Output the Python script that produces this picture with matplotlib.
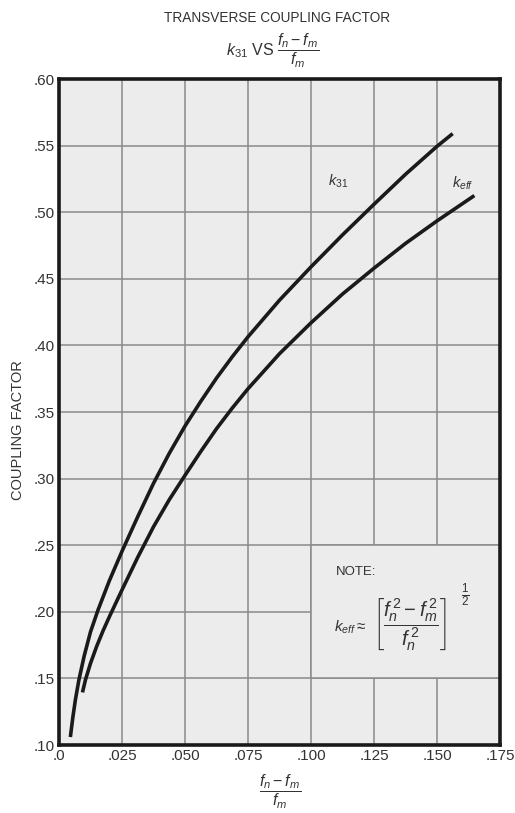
import numpy as np
import matplotlib
matplotlib.use('Agg')
import matplotlib.pyplot as plt
from matplotlib.patches import Rectangle

plt.rcParams['font.family'] = ['Liberation Sans', 'DejaVu Sans']
plt.rcParams['mathtext.fontset'] = 'custom'
plt.rcParams['mathtext.rm'] = 'Liberation Sans'
plt.rcParams['mathtext.it'] = 'Liberation Sans:italic'
plt.rcParams['mathtext.bf'] = 'Liberation Sans:bold'

# curves: (fn - fm)/fm  vs coupling factor
k31_x = [0.0045, 0.0055, 0.0065, 0.0079, 0.010, 0.0125, 0.0155, 0.020, 0.025,
         0.03125, 0.0375, 0.04375, 0.050, 0.05625, 0.0625, 0.06875, 0.075,
         0.0875, 0.100, 0.1125, 0.125, 0.1375, 0.150, 0.1562]
k31_y = [0.106, 0.121, 0.134, 0.149, 0.167, 0.185, 0.2015, 0.2235, 0.2455,
         0.2715, 0.2965, 0.319, 0.3395, 0.358, 0.3755, 0.3915, 0.4065,
         0.434, 0.459, 0.483, 0.506, 0.5285, 0.5495, 0.559]

keff_x = [0.0093, 0.0105, 0.0125, 0.015, 0.0175, 0.020, 0.025, 0.03125, 0.0375,
          0.04375, 0.050, 0.05625, 0.0625, 0.06875, 0.075, 0.0875, 0.100,
          0.1125, 0.125, 0.1375, 0.150, 0.1648]
keff_y = [0.1395, 0.149, 0.1614, 0.1744, 0.1859, 0.1964, 0.2165, 0.241, 0.2639,
          0.2842, 0.3025, 0.3204, 0.3375, 0.353, 0.3675, 0.3938, 0.417,
          0.4386, 0.458, 0.4766, 0.4935, 0.5125]

xticks = [0.0, 0.025, 0.050, 0.075, 0.100, 0.125, 0.150, 0.175]
xlabels = ['.0', '.025', '.050', '.075', '.100', '.125', '.150', '.175']
yticks = [0.10, 0.15, 0.20, 0.25, 0.30, 0.35, 0.40, 0.45, 0.50, 0.55, 0.60]
ylabels = ['.10', '.15', '.20', '.25', '.30', '.35', '.40', '.45', '.50', '.55', '.60']

txt = '#333333'

fig = plt.figure(figsize=(5.15, 8.13), dpi=100)
ax = fig.add_axes([0.1146, 0.0836, 0.9710 - 0.1146, 0.9028 - 0.0836])
ax.set_facecolor('#ececec')

ax.set_xlim(0, 0.175)
ax.set_ylim(0.10, 0.60)
ax.set_xticks(xticks)
ax.set_xticklabels(xlabels)
ax.set_yticks(yticks)
ax.set_yticklabels(ylabels)
ax.tick_params(length=0, labelsize=11, labelcolor=txt, pad=3)
ax.grid(True, color='#8a8a8a', lw=1.1)
ax.set_axisbelow(True)
for s in ax.spines.values():
    s.set_linewidth(2.6)
    s.set_color('#1a1a1a')

# note box hides grid lines
ax.add_patch(Rectangle((0.100, 0.15), 0.075, 0.10, facecolor='#ececec',
                       edgecolor='#8a8a8a', lw=1.1, zorder=1.5))

for xs, ys in [(k31_x, k31_y), (keff_x, keff_y)]:
    ax.plot(xs, ys, color='#1a1a1a', lw=2.6, solid_capstyle='butt',
            solid_joinstyle='round', zorder=3)

ax.text(0.1107, 0.523, r'$k_{31}$', fontsize=10.5, color=txt, ha='center', va='center')
ax.text(0.1603, 0.522, r'$k_{eff}$', fontsize=10.5, color=txt, ha='center', va='center')

# note
ax.text(0.1100, 0.230, 'NOTE:', fontsize=9.5, color=txt, ha='left', va='center', zorder=4)
ax.text(0.1090, 0.1885, r'$k_{eff} \approx$', fontsize=11, color=txt,
        ha='left', va='center', zorder=4)
ax.text(0.1245, 0.1905, r'$\left[\dfrac{f_n^{\,2} - f_m^{\,2}}{f_n^{\,2}}\right]$',
        fontsize=14.5, color=txt, ha='left', va='center', zorder=4)
ax.text(0.1612, 0.2125, r'$\frac{1}{2}$', fontsize=12, color=txt,
        ha='center', va='center', zorder=4)

fig.text(0.538, 0.978, 'TRANSVERSE COUPLING FACTOR', fontsize=9.8, color=txt,
         ha='center', va='center')
fig.text(0.530, 0.938, r'$k_{31}$ VS $\dfrac{f_n - f_m}{f_m}$', fontsize=11.5, color=txt,
         ha='center', va='center')
fig.text(0.544, 0.0255, r'$\dfrac{f_n - f_m}{f_m}$', fontsize=11.5, color=txt,
         ha='center', va='center')
fig.text(0.035, 0.471, 'COUPLING FACTOR', fontsize=10.5, color=txt, rotation=90,
         ha='center', va='center')

fig.savefig('out.png', dpi=100, facecolor='white')
